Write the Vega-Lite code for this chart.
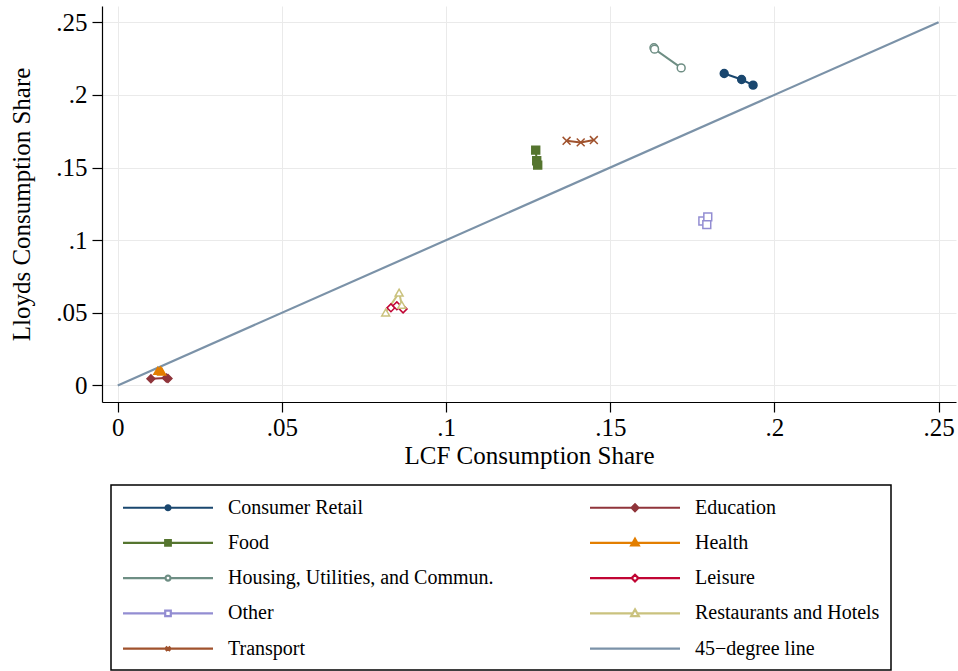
{
  "$schema": "https://vega.github.io/schema/vega-lite/v6.json",
  "width": 854,
  "height": 396,
  "autosize": {"type": "none"},
  "padding": {"left": 102, "top": 6, "right": 2, "bottom": 269},
  "background": "white",
  "config": {
    "font": "Liberation Serif",
    "view": {"stroke": null},
    "axis": {
      "domainColor": "#000",
      "domainWidth": 1.2,
      "tickColor": "#000",
      "tickWidth": 1.2,
      "tickSize": 10,
      "labelFont": "Liberation Serif",
      "labelFontSize": 25,
      "labelColor": "#000",
      "titleFont": "Liberation Serif",
      "titleFontSize": 25,
      "titleFontWeight": "normal",
      "titleColor": "#000",
      "gridColor": "#eaeaea",
      "gridWidth": 1
    },
    "legend": {
      "orient": "none", "legendX": 9, "legendY": 479,
      "direction": "horizontal",
      "columns": 2, "columnPadding": 91, "rowPadding": 13.3,
      "padding": 11, "strokeColor": "#000", "strokeWidth": 1.5,
      "symbolSize": 400, "symbolStrokeWidth": 2.2, "symbolOffset": 34.5, "symbolOpacity": 1,
      "labelFont": "Liberation Serif", "labelFontSize": 20, "labelColor": "#000",
      "labelOffset": 48.5, "labelLimit": 500
    }
  },
  "datasets": {
    "series": [
      {"cat": "Consumer Retail", "lcf": 0.1847, "lloyds": 0.2147},
      {"cat": "Consumer Retail", "lcf": 0.1900, "lloyds": 0.2106},
      {"cat": "Consumer Retail", "lcf": 0.1935, "lloyds": 0.2067},
      {"cat": "Food", "lcf": 0.1273, "lloyds": 0.1620},
      {"cat": "Food", "lcf": 0.1276, "lloyds": 0.1547},
      {"cat": "Food", "lcf": 0.1279, "lloyds": 0.1517},
      {"cat": "Housing, Utilities, and Commun.", "lcf": 0.1633, "lloyds": 0.2325},
      {"cat": "Housing, Utilities, and Commun.", "lcf": 0.1635, "lloyds": 0.2315},
      {"cat": "Housing, Utilities, and Commun.", "lcf": 0.1716, "lloyds": 0.2186},
      {"cat": "Other", "lcf": 0.1782, "lloyds": 0.1132},
      {"cat": "Other", "lcf": 0.1797, "lloyds": 0.1160},
      {"cat": "Other", "lcf": 0.1794, "lloyds": 0.1107},
      {"cat": "Transport", "lcf": 0.1367, "lloyds": 0.1684},
      {"cat": "Transport", "lcf": 0.1410, "lloyds": 0.1673},
      {"cat": "Transport", "lcf": 0.1450, "lloyds": 0.1689},
      {"cat": "Education", "lcf": 0.0101, "lloyds": 0.0046},
      {"cat": "Education", "lcf": 0.0148, "lloyds": 0.0052},
      {"cat": "Education", "lcf": 0.0153, "lloyds": 0.0048},
      {"cat": "Health", "lcf": 0.0122, "lloyds": 0.0101},
      {"cat": "Health", "lcf": 0.0130, "lloyds": 0.0103},
      {"cat": "Health", "lcf": 0.0134, "lloyds": 0.0096},
      {"cat": "Leisure", "lcf": 0.0832, "lloyds": 0.0534},
      {"cat": "Leisure", "lcf": 0.0850, "lloyds": 0.0548},
      {"cat": "Leisure", "lcf": 0.0869, "lloyds": 0.0527},
      {"cat": "Restaurants and Hotels", "lcf": 0.0816, "lloyds": 0.0502},
      {"cat": "Restaurants and Hotels", "lcf": 0.0857, "lloyds": 0.0639},
      {"cat": "Restaurants and Hotels", "lcf": 0.0865, "lloyds": 0.0555}
    ],
    "diag": [
      {"cat": "45−degree line", "lcf": 0, "lloyds": 0},
      {"cat": "45−degree line", "lcf": 0.25, "lloyds": 0.25}
    ]
  },
  "resolve": {
    "scale": {"shape": "independent"},
    "legend": {"stroke": "independent", "fill": "independent", "shape": "independent"}
  },
  "encoding": {
    "x": {
      "field": "lcf", "type": "quantitative",
      "scale": {"domain": [-0.0048, 0.2553], "nice": false, "zero": false},
      "axis": {
        "title": "LCF Consumption Share",
        "values": [0, 0.05, 0.1, 0.15, 0.2, 0.25],
        "labelExpr": "replace(format(datum.value, '.2~f'), '0.', '.')",
        "labelPadding": 3, "titlePadding": 3, "labelFlush": false, "labelOverlap": false
      }
    },
    "y": {
      "field": "lloyds", "type": "quantitative",
      "scale": {"domain": [-0.0114, 0.2612], "nice": false, "zero": false},
      "axis": {
        "title": "Lloyds Consumption Share",
        "values": [0, 0.05, 0.1, 0.15, 0.2, 0.25],
        "labelExpr": "replace(format(datum.value, '.2~f'), '0.', '.')",
        "labelPadding": 5, "titlePadding": 21, "labelFlush": false, "labelOverlap": false
      }
    }
  },
  "layer": [
    {
      "data": {"name": "diag"},
      "mark": {"type": "line", "strokeWidth": 2.2},
      "encoding": {
        "stroke": {
          "field": "cat", "type": "nominal", "legend": null,
          "scale": {
            "domain": ["Consumer Retail", "Education", "Food", "Health", "Housing, Utilities, and Commun.", "Leisure", "Other", "Restaurants and Hotels", "Transport", "45−degree line"],
            "range": ["#1a476f", "#90353b", "#55752f", "#e37e00", "#6e8e84", "#c10534", "#938dd2", "#cac27e", "#a0522d", "#7b92a8"]
          }
        }
      }
    },
    {
      "data": {"name": "series"},
      "mark": {"type": "line", "strokeWidth": 2},
      "encoding": {
        "stroke": {"field": "cat", "type": "nominal", "legend": null}
      }
    },
    {
      "data": {"name": "series"},
      "mark": {"type": "point", "filled": true, "size": 62, "strokeWidth": 1.5, "opacity": 1},
      "encoding": {
        "stroke": {"field": "cat", "type": "nominal", "legend": null},
        "fill": {
          "field": "cat", "type": "nominal", "legend": null,
          "scale": {
            "domain": ["Consumer Retail", "Education", "Food", "Health", "Housing, Utilities, and Commun.", "Leisure", "Other", "Restaurants and Hotels", "Transport", "45−degree line"],
            "range": ["#1a476f", "#90353b", "#55752f", "#e37e00", "#ffffff", "#ffffff", "#ffffff", "#ffffff", "#a0522d", "#7b92a8"]
          }
        },
        "shape": {
          "field": "cat", "type": "nominal", "legend": null,
          "scale": {
            "domain": ["Consumer Retail", "Education", "Food", "Health", "Housing, Utilities, and Commun.", "Leisure", "Other", "Restaurants and Hotels", "Transport", "45−degree line"],
            "range": ["circle", "diamond", "square", "triangle-up", "circle", "diamond", "square", "triangle-up", "M-1,-1L1,1M-1,1L1,-1", "circle"]
          }
        }
      }
    },
    {
      "data": {"name": "diag"},
      "mark": {"type": "point", "filled": true, "size": 400, "strokeWidth": 2.2, "opacity": 0},
      "encoding": {
        "stroke": {"field": "cat", "type": "nominal", "legend": {"title": null, "labelExpr": "datum.label == 'Restaurants and Hotels' ? datum.label + '    ' : datum.label"}},
        "fill": {"field": "cat", "type": "nominal", "legend": {"title": null, "labelExpr": "datum.label == 'Restaurants and Hotels' ? datum.label + '    ' : datum.label"}},
        "shape": {
          "field": "cat", "type": "nominal",
          "legend": {"title": null, "labelExpr": "datum.label == 'Restaurants and Hotels' ? datum.label + '    ' : datum.label"},
          "scale": {
            "domain": ["Consumer Retail", "Education", "Food", "Health", "Housing, Utilities, and Commun.", "Leisure", "Other", "Restaurants and Hotels", "Transport", "45−degree line"],
            "range": [
              "M-4.5,0L4.5,0M0.25,0A0.25,0.25,0,1,1,-0.25,0A0.25,0.25,0,1,1,0.25,0Z",
              "M-4.5,0L4.5,0M0,-0.34L0.34,0L0,0.34L-0.34,0Z",
              "M-4.5,0L4.5,0M-0.28,-0.28H0.28V0.28H-0.28Z",
              "M-4.5,0L4.5,0M0,-0.4L0.38,0.27L-0.38,0.27Z",
              "M-4.5,0L-0.25,0M0.25,0L4.5,0M0.25,0A0.25,0.25,0,1,1,-0.25,0A0.25,0.25,0,1,1,0.25,0Z",
              "M-4.5,0L-0.34,0M0.34,0L4.5,0M0,-0.34L0.34,0L0,0.34L-0.34,0Z",
              "M-4.5,0L-0.28,0M0.28,0L4.5,0M-0.28,-0.28H0.28V0.28H-0.28Z",
              "M-4.5,0L-0.23,0M0.23,0L4.5,0M0,-0.4L0.38,0.27L-0.38,0.27Z",
              "M-4.5,0L4.5,0M-0.22,-0.22L0.22,0.22M-0.22,0.22L0.22,-0.22",
              "M-4.5,0L4.5,0"
            ]
          }
        }
      }
    }
  ]
}
